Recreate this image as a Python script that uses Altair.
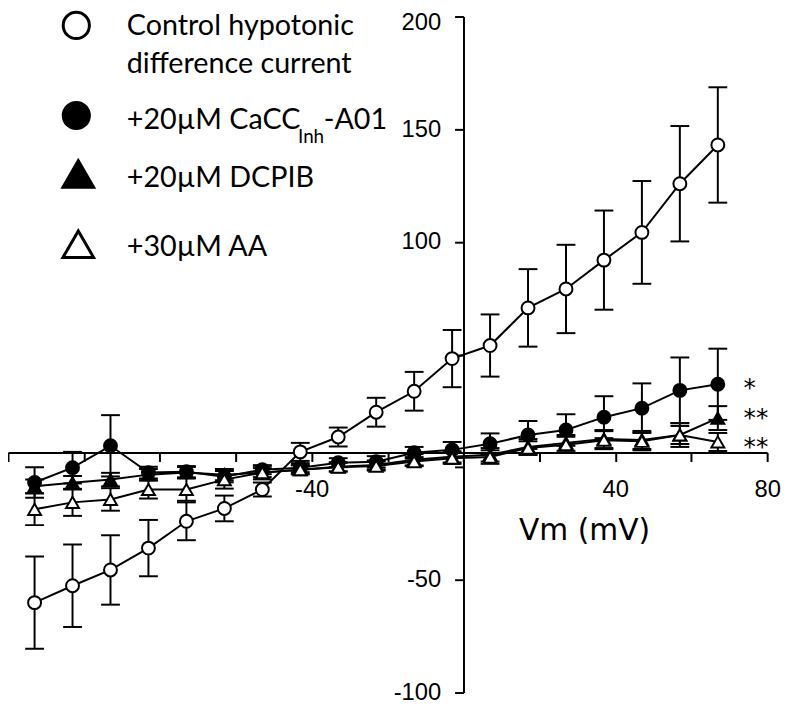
import altair as alt
import pandas as pd

# ---------------- data ----------------
vm = [-113, -103, -93, -83, -73, -63, -53, -43, -33, -23, -13, -3, 7, 17, 27, 37, 47, 57, 67]

control_mean = [-60.1, -52.6, -45.6, -35.9, -24.0, -18.3, -9.9, 6.8, 13.4, 24.4, 33.7, 48.2,
                54.0, 70.7, 79.1, 91.9, 104.2, 125.8, 143.0]
control_sem = [20.5, 18.3, 15.4, 12.5, 8.4, 5.7, 3.1, 4.0, 4.2, 6.4, 8.6, 12.7,
               13.8, 17.2, 19.6, 22.0, 22.8, 25.6, 25.6]

cacc_mean = [-6.8, -0.2, 9.5, -2.4, -2.0, -4.2, -1.1, -0.2, 2.0, 2.4, 6.4, 7.7,
             10.4, 14.3, 16.5, 22.2, 26.2, 34.1, 36.8]
cacc_sem = [6.8, 7.0, 13.6, 2.6, 2.5, 2.5, 2.0, 2.0, 2.0, 2.5, 2.6, 3.5,
            4.6, 6.2, 7.0, 9.3, 11.0, 14.6, 15.8]

dcpib_mean = [-8.5, -6.9, -5.5, -3.3, -2.4, -3.3, -2.4, -1.1, 0.2, 1.0, 3.3, 4.6,
              5.5, 9.0, 10.8, 12.5, 12.1, 14.3, 21.8]
dcpib_sem = [3.0, 3.0, 3.0, 2.5, 2.5, 2.5, 2.0, 2.0, 2.0, 2.0, 2.5, 2.5,
             3.0, 3.5, 3.5, 4.0, 4.0, 5.3, 5.3]

aa_mean = [-18.7, -15.6, -14.3, -9.9, -9.9, -5.5, -2.4, -1.1, 0.0, 0.5, 2.5, 4.0,
           4.5, 8.5, 10.0, 12.0, 11.5, 14.3, 11.2]
aa_sem = [7.0, 6.0, 5.0, 4.0, 5.0, 4.0, 3.0, 2.0, 2.0, 2.0, 2.0, 2.5,
          3.0, 3.0, 3.5, 4.0, 4.0, 4.0, 4.0]

series_names = ["Control", "CaCCinh-A01", "DCPIB", "AA"]
series_shapes = ["circle", "circle", "triangle-up", "triangle-up"]
series_fills = ["white", "black", "black", "white"]
series_sizes = [170, 170, 330, 330]
significance = ["", "*", "**", "**"]
significance_level = [None, 38.3, 25.0, 12.2]   # vertical level of each star label (data units)

x_ticks = [-120, -100, -80, -60, -40, -20, 0, 20, 40, 60, 80]
x_labelled = [-40, 40, 80]
y_ticks = [-100, -50, 0, 50, 100, 150, 200]
y_labelled = [-100, -50, 100, 150, 200]

legend_lines = ["Control hypotonic", "difference current", "+20µM CaCC", "Inh", "-A01",
                "+20µM DCPIB", "+30µM AA"]
x_title = "Vm (mV)"

# ---------------- layout ----------------
W, H = 767, 683
X_DOM = [-120, 80]
Y_DOM = [-100, 200]
X_AXIS_AT = 6.5   # horizontal axis crosses the y axis here
Y_AXIS_AT = 0

x_axis_off = (Y_DOM[1] - X_AXIS_AT) / (Y_DOM[1] - Y_DOM[0]) * H - H
y_axis_off = -(Y_AXIS_AT - X_DOM[0]) / (X_DOM[1] - X_DOM[0]) * W

rows = []
for i, (name, m, s) in enumerate(zip(series_names, [control_mean, cacc_mean, dcpib_mean, aa_mean],
                                     [control_sem, cacc_sem, dcpib_sem, aa_sem])):
    for v, mm, ss in zip(vm, m, s):
        rows.append({"series": name, "order": i, "vm": v, "mean": mm, "lo": mm - ss, "hi": mm + ss})
df = pd.DataFrame(rows)

stars_df = pd.DataFrame({
    "series": series_names,
    "vm": [vm[-1]] * 4,
    "level": significance_level,
    "sig": significance,
})
stars_df = stars_df[stars_df["sig"] != ""]

xs = alt.Scale(domain=X_DOM, nice=False, zero=False)
ys = alt.Scale(domain=Y_DOM, nice=False, zero=False)

x_lab_expr = " || ".join(f"datum.value == {v}" for v in x_labelled)
y_lab_expr = " || ".join(f"datum.value == {v}" for v in y_labelled)

xaxis = alt.Axis(values=x_ticks, labelExpr=f"({x_lab_expr}) ? toString(datum.value) : ''",
                 offset=x_axis_off, grid=False, domainColor="black", domainWidth=2,
                 tickColor="black", tickWidth=2, tickSize=9, labelFont="Liberation Sans",
                 labelFontSize=24, labelColor="black", labelPadding=16, labelFlush=False,
                 labelOverlap=False,
                 title=x_title, titleFont="DejaVu Sans", titleFontSize=30,
                 titleFontWeight="normal", titleColor="black", titleX=582, titleY=88,
                 titleAlign="center", titleBaseline="alphabetic", titleAnchor="start")
yaxis = alt.Axis(values=y_ticks, labelExpr=f"({y_lab_expr}) ? toString(datum.value) : ''",
                 offset=y_axis_off, grid=False, domainColor="black", domainWidth=2,
                 tickColor="black", tickWidth=2, tickSize=9, labelFont="Liberation Sans",
                 labelFontSize=24, labelColor="black", labelPadding=14, labelFlush=False,
                 labelOverlap=False, title=None,
                 labelOffset={"condition": {"test": f"datum.value == {Y_DOM[1]}", "value": 6},
                              "value": 0})

X = alt.X("vm:Q", scale=xs, axis=xaxis)

base = alt.Chart(df)

err = base.mark_rule(color="black", strokeWidth=2).encode(
    x=X, y=alt.Y("lo:Q", scale=ys, axis=yaxis), y2="hi:Q")

caps = base.transform_fold(["lo", "hi"], as_=["end", "val"]).mark_tick(
    orient="horizontal", color="black", thickness=2, size=19, opacity=1).encode(
    x=X, y=alt.Y("val:Q", scale=ys, axis=yaxis))

lines = base.mark_line(color="black", strokeWidth=2).encode(
    x=X, y=alt.Y("mean:Q", scale=ys, axis=yaxis), detail="series:N", order="vm:Q")

pts = base.mark_point(filled=True, stroke="black", strokeWidth=2, opacity=1).encode(
    x=X, y=alt.Y("mean:Q", scale=ys, axis=yaxis),
    shape=alt.Shape("series:N", scale=alt.Scale(domain=series_names, range=series_shapes), legend=None),
    fill=alt.Fill("series:N", scale=alt.Scale(domain=series_names, range=series_fills), legend=None),
    size=alt.Size("series:N", scale=alt.Scale(domain=series_names, range=series_sizes), legend=None),
    order="order:Q",
)

stars = alt.Chart(stars_df).mark_text(align="left", baseline="middle", dx=26, dy=7,
                                      font="DejaVu Sans", fontSize=25, color="black").encode(
    x=X, y=alt.Y("level:Q", scale=ys, axis=yaxis), text="sig:N")


# ---------------- custom legend ----------------
def leg_symbol(shape, fill, px, py, size):
    return alt.Chart(pd.DataFrame({"s": [0]})).mark_point(
        shape=shape, filled=True, fill=fill, stroke="black", strokeWidth=3, size=size, opacity=1
    ).encode(x=alt.value(px), y=alt.value(py))


def leg_text(text, px, py, fs=29):
    return alt.Chart(pd.DataFrame({"t": [text]})).mark_text(
        align="left", baseline="alphabetic", font="Lato", fontSize=fs, color="black"
    ).encode(x=alt.value(px), y=alt.value(py), text="t:N")


legend = [
    leg_symbol("circle", "white", 69, 9, 700),
    leg_text(legend_lines[0], 120, 19),
    leg_text(legend_lines[1], 120, 57),
    leg_symbol("circle", "black", 69, 100, 700),
    leg_text(legend_lines[2], 120, 114),
    leg_text(legend_lines[3], 293, 128, 19),
    leg_text(legend_lines[4], 319, 114),
    leg_symbol("triangle-up", "black", 71, 159, 960),
    leg_text(legend_lines[5], 120, 172),
    leg_symbol("triangle-up", "white", 71, 230, 960),
    leg_text(legend_lines[6], 120, 242),
]

chart = alt.layer(err, caps, lines, pts, stars, *legend).properties(
    width=W, height=H,
    autosize=alt.AutoSizeParams(type="none"),
    padding={"left": 0, "top": 5, "right": 16, "bottom": 12},
    background="white",
).configure_view(stroke=None)

chart.save("out.html", embed_options={"renderer": "svg", "actions": False})
